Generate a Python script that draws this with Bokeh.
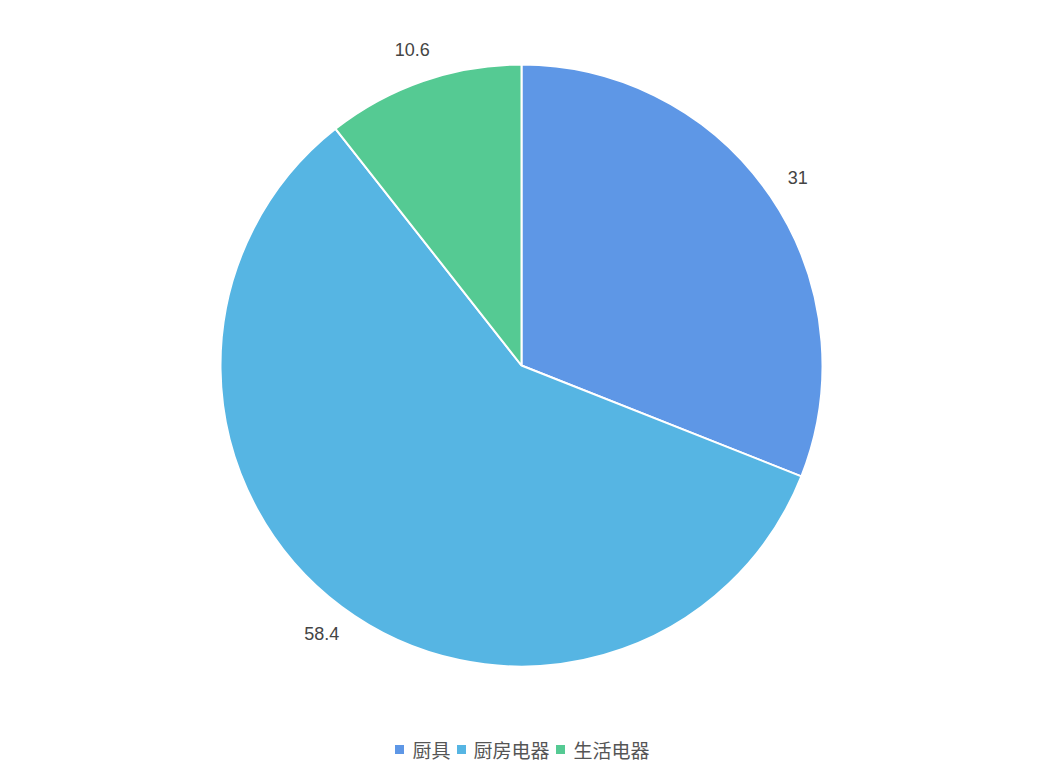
import numpy as np
from bokeh.plotting import figure
from bokeh.models import ColumnDataSource, Range1d
from bokeh.core.properties import value
from bokeh.embed import file_html
from bokeh.resources import INLINE

categories = ["厨具", "厨房电器", "生活电器"]
values = [31, 58.4, 10.6]
colors = ["#5e97e6", "#56b5e3", "#55ca93"]

W, H = 1026, 766
p = figure(width=W, height=H, output_backend="svg", toolbar_location=None,
           x_range=Range1d(0, W), y_range=Range1d(782 - H, 782),
           min_border=0, min_border_left=0, min_border_right=0,
           min_border_top=0, min_border_bottom=0)
p.axis.visible = False
p.grid.visible = False
p.outline_line_color = None
p.background_fill_color = "white"
p.border_fill_color = "white"

cx, cy, r = 521, 782 - 365, 301
vals = np.array(values, dtype=float)
frac = vals / vals.sum()
cum = np.concatenate([[0], np.cumsum(frac)])
start = np.pi / 2 - cum[:-1] * 2 * np.pi
end = np.pi / 2 - cum[1:] * 2 * np.pi
mid = (start + end) / 2

src = ColumnDataSource(dict(cat=categories, val=values, color=colors,
                            start=start, end=end,
                            lx=cx + 334 * np.cos(mid), ly=cy + 334 * np.sin(mid),
                            lab=[f"{v:g}" for v in values]))
p.wedge(x=cx, y=cy, radius=r, start_angle="start", end_angle="end",
        direction="clock", fill_color="color", line_color="white",
        line_width=2, source=src)
p.text(x="lx", y="ly", text="lab", source=src, text_align="center",
       text_baseline="middle", text_font=value("Liberation Sans"),
       text_font_size="18px", text_color="#444444")

# legend
sq_x = [399, 461, 560]
tx = [412, 473, 573]
ly = 782 - 749
p.rect(x=sq_x, y=[ly] * 3, width=9, height=9, fill_color=colors, line_color=None)
p.text(x=tx, y=[ly] * 3, text=categories, text_align="left", text_baseline="middle",
       text_font=value("Noto Sans CJK SC"), text_font_size="19px", text_color="#555555")

open("out.html", "w").write(file_html(p, INLINE))
